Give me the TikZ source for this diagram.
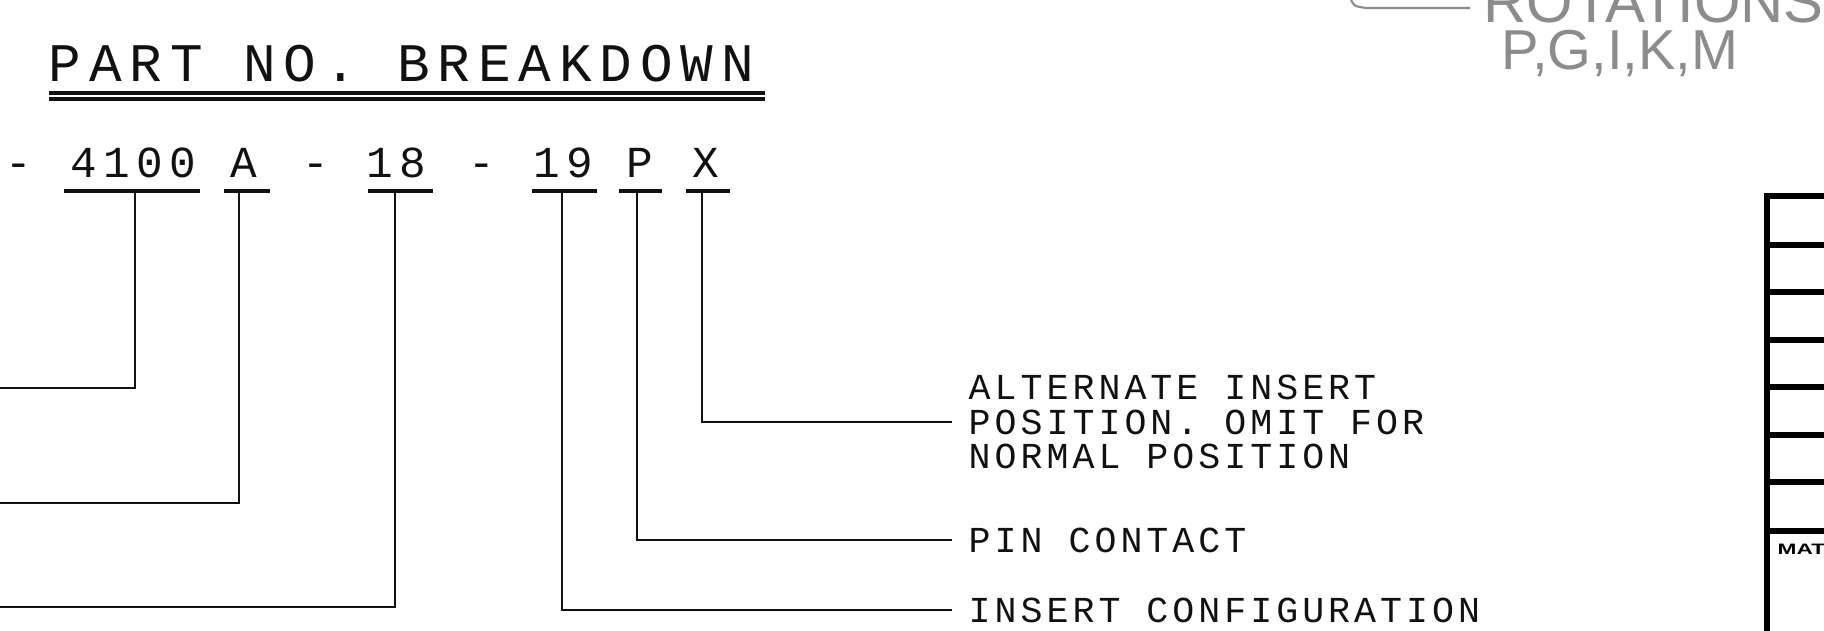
\documentclass[tikz,border=0pt]{standalone}
\usepackage{fontspec}
\usepackage{tikz}
\usetikzlibrary{positioning,calc}
\newfontfamily\plotfont[LetterSpace=11]{Liberation Mono}
\newfontfamily\plotwide[LetterSpace=14.5]{Liberation Mono}
\newfontfamily\handfont{Liberation Sans}
\definecolor{DwgInk}{HTML}{111111}
\definecolor{DwgPencil}{HTML}{8C8C8C}

\begin{document}
\begin{tikzpicture}[x=0.01cm,y=-0.01cm,
  lead/.style={draw=DwgInk,line width=0.75pt},
  rule/.style={draw=DwgInk,line width=0.9pt},
  grid/.style={draw=black,line width=1.7pt},
  heading/.style={font=\fontsize{15.45}{18}\plotwide,text=DwgInk,inner sep=0pt,anchor=base west},
  code/.style={font=\fontsize{12.6}{16}\plotwide,text=DwgInk,inner sep=0pt,anchor=base west},
  note/.style={font=\fontsize{10.4}{9.7}\plotfont,text=DwgInk,align=left,inner sep=0pt,inner xsep=0.16cm,anchor=west},
  hand/.style={font=\fontsize{16}{18}\handfont,text=DwgPencil,inner sep=0pt,anchor=base west},
  pencil/.style={draw=DwgPencil,line width=0.6pt},
]
\useasboundingbox (0,0) rectangle (1824,631);
\clip (0,0) rectangle (1824,631);
\fill[white] (0,0) rectangle (1824,631);

\node[heading] (title) at (48,82) {PART NO. BREAKDOWN};
\draw[rule] (49,93) -- (765,93) (49,99) -- (765,99);

\node[code] (dash1) at (5,178) {-};
\node[code] (n4100) at (70,178) {4100};
\node[code] (nA) at (230,178) {A};
\node[code] (dash2) at (302,178) {-};
\node[code] (n18) at (366,178) {18};
\node[code] (dash3) at (468,178) {-};
\node[code] (n19) at (533,178) {19};
\node[code] (nP) at (626,178) {P};
\node[code] (nX) at (692,178) {X};
\foreach \a/\b in {64/200,224/270,368/433,532/597,619/662,686/730}
  \draw[rule] (\a,191) -- (\b,191);

\node[note] (alt) at (952,422) {ALTERNATE INSERT\\POSITION. OMIT FOR\\NORMAL POSITION};
\node[note] (pin) at (952,540) {PIN CONTACT};
\node[note] (ins) at (952,610) {INSERT CONFIGURATION};

\coordinate (tap4100) at (135,191);
\coordinate (tapA) at (239,191);
\coordinate (tap18) at (395,191);
\coordinate (tap19) at (562,191);
\coordinate (tapP) at (637,191);
\coordinate (tapX) at (702,191);
\coordinate (off4100) at (0,388);
\coordinate (offA) at (0,503);
\coordinate (off18) at (0,607);
\draw[lead] (tap4100) |- (off4100);
\draw[lead] (tapA) |- (offA);
\draw[lead] (tap18) |- (off18);
\draw[lead] (tap19) |- (ins);
\draw[lead] (tapP) |- (pin);
\draw[lead] (tapX) |- (alt);

\draw[grid] (1767,640) -- (1767,196) -- (1830,196);
\foreach \y in {245,292,340,387,435,482,531}
  \draw[grid] (1767,\y) -- (1830,\y);
\node[font=\fontsize{4.3}{6}\handfont\bfseries,inner sep=0pt,anchor=west] (mat) at (1777,549) {\scalebox{1.5}[1]{MAT}};

\node[hand,font=\fontsize{17}{18}\handfont] (rot) at (1483,23) {ROTATIONS};
\node[hand] (rotlist) at (1501,70) {P,G,I,K,M};
\draw[pencil] (1350,-4) .. controls (1353,6) .. (1366,8) -- (1470,8);
\end{tikzpicture}
\end{document}
